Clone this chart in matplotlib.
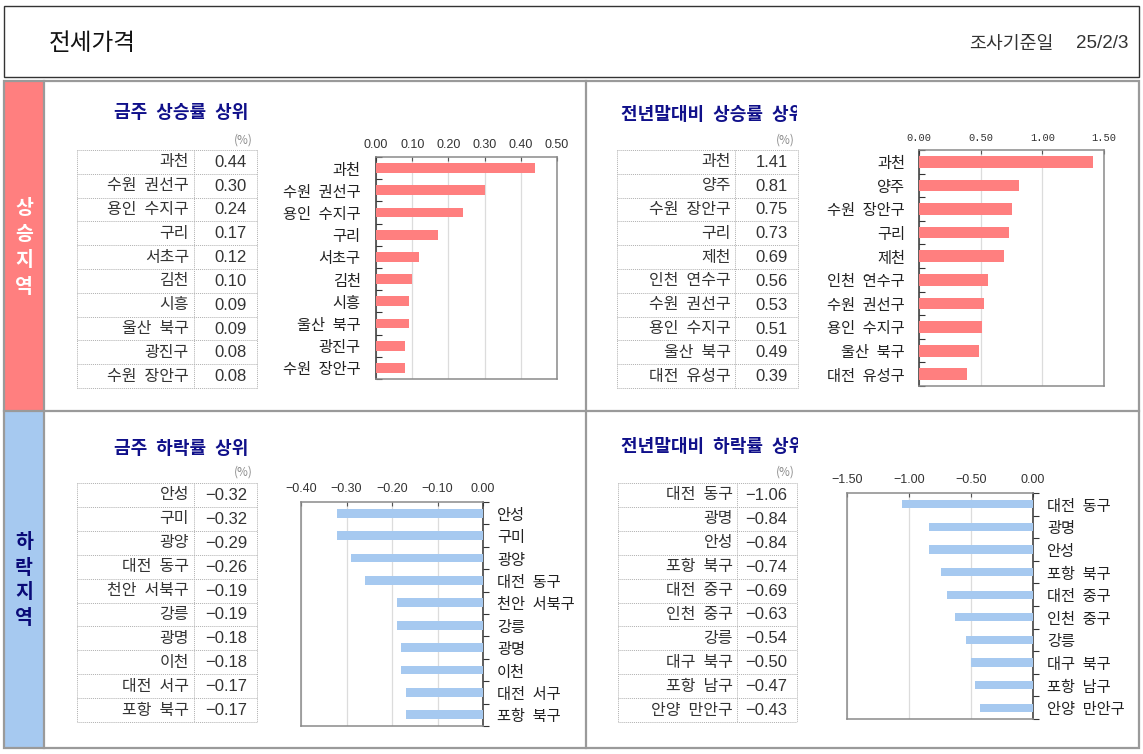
import numpy as np
import matplotlib
matplotlib.use("Agg")
import matplotlib.pyplot as plt
from matplotlib.patches import Rectangle
from matplotlib.transforms import Bbox
from matplotlib.ticker import FixedLocator, NullFormatter, FixedFormatter

# ---------------- data ----------------
up_week_names = ["과천", "수원 권선구", "용인 수지구", "구리", "서초구", "김천", "시흥", "울산 북구", "광진구", "수원 장안구"]
up_week_vals = [0.44, 0.30, 0.24, 0.17, 0.12, 0.10, 0.09, 0.09, 0.08, 0.08]

up_ytd_names = ["과천", "양주", "수원 장안구", "구리", "제천", "인천 연수구", "수원 권선구", "용인 수지구", "울산 북구", "대전 유성구"]
up_ytd_vals = [1.41, 0.81, 0.75, 0.73, 0.69, 0.56, 0.53, 0.51, 0.49, 0.39]

dn_week_names = ["안성", "구미", "광양", "대전 동구", "천안 서북구", "강릉", "광명", "이천", "대전 서구", "포항 북구"]
dn_week_vals = [-0.32, -0.32, -0.29, -0.26, -0.19, -0.19, -0.18, -0.18, -0.17, -0.17]

dn_ytd_names = ["대전 동구", "광명", "안성", "포항 북구", "대전 중구", "인천 중구", "강릉", "대구 북구", "포항 남구", "안양 만안구"]
dn_ytd_vals = [-1.06, -0.84, -0.84, -0.74, -0.69, -0.63, -0.54, -0.50, -0.47, -0.43]

up_week_ticks = [0.0, 0.1, 0.2, 0.3, 0.4, 0.5]
up_ytd_ticks = [0.0, 0.5, 1.0, 1.5]
dn_week_ticks = [-0.4, -0.3, -0.2, -0.1, 0.0]
dn_ytd_ticks = [-1.5, -1.0, -0.5, 0.0]

header_title = "전세가격"
header_date_label = "조사기준일"
header_date = "25/2/3"
up_label = "상승지역"
dn_label = "하락지역"
titles = ["금주 상승률 상위", "전년말대비 상승률 상위", "금주 하락률 상위", "전년말대비 하락률 상위"]
unit = "(%)"

# ---------------- style ----------------
KR = ["Noto Sans CJK KR", "DejaVu Sans"]
NUM = ["Liberation Sans", "DejaVu Sans"]
plt.rcParams["font.family"] = KR
W, H = 1143, 754
PINK = "#FF7F7F"
BLUE = "#A6C9F0"
NAVY = "#10108A"
TXT = "#333333"
GRID = "#DCDCDC"
BORDER = "#9A9A9A"

fig = plt.figure(figsize=(W / 100, H / 100), dpi=100)
fig.patch.set_facecolor("white")
bg = fig.add_axes([0, 0, 1, 1])
bg.set_xlim(0, W)
bg.set_ylim(H, 0)
bg.axis("off")


def fmt(v):
    return f"{v:.2f}".replace("-", "\u2212")


def gap(s):
    # word gap of half an em, as in the reference's font
    return s.replace(" ", "\u2002")


# header
bg.add_patch(Rectangle((4, 6), 1135, 71, fill=False, ec="#333333", lw=1.0))
bg.text(49, 43, header_title, fontsize=17, color="#111111", ha="left", va="center")
bg.text(1054, 44, header_date_label, fontsize=13.2, color=TXT, ha="right", va="center")
bg.text(1128, 44, header_date, fontsize=13.5, color=TXT, ha="right", va="center", family=NUM)

# side strips
bg.add_patch(Rectangle((4, 82), 40, 328, fc=PINK, ec="none"))
bg.add_patch(Rectangle((4, 411), 40, 337, fc=BLUE, ec="none"))
for i, ch in enumerate(up_label):
    bg.text(24, 208 + i * 26.5, ch, fontsize=14, fontweight="bold", color="white",
            ha="center", va="center")
for i, ch in enumerate(dn_label):
    bg.text(24, 543 + i * 25, ch, fontsize=14, fontweight="bold", color="#0A0A78",
            ha="center", va="center")

# panel borders
bg.add_patch(Rectangle((4, 81), 1135, 667, fill=False, ec=BORDER, lw=1.6))
bg.plot([44, 44], [81, 748], color=BORDER, lw=1.6)
bg.plot([586, 586], [81, 748], color=BORDER, lw=1.6)
bg.plot([4, 1139], [410.5, 410.5], color=BORDER, lw=1.6)


def draw_table(x0, xs, x1, y0, y1, names, vals, name_pad=5, val_pad=10):
    n = len(names)
    h = (y1 - y0) / n
    ls = (0, (1, 1))
    for i in range(n + 1):
        y = y0 + i * h
        bg.plot([x0, x1], [y, y], color="#B0B0B0", lw=0.7, ls=ls)
    for x in (x0, xs, x1):
        bg.plot([x, x], [y0, y1], color="#B0B0B0", lw=0.7, ls=ls)
    for i, (nm, v) in enumerate(zip(names, vals)):
        yc = y0 + (i + 0.5) * h
        bg.text(xs - name_pad, yc, gap(nm), fontsize=11.5, color=TXT, ha="right", va="center")
        bg.text(x1 - val_pad, yc + 0.5, fmt(v), fontsize=12, color=TXT, ha="right",
                va="center", family=NUM)


def draw_title(x, y, s, clip_x=None):
    t = bg.text(x, y, gap(s), fontsize=13, fontweight="bold", color=NAVY,
                ha="left", va="center")
    if clip_x is not None:
        t.set_clip_box(Bbox.from_extents(x - 10, H - (y + 20), clip_x, H - (y - 20)))
        t.set_clip_on(True)


# titles and units
draw_title(114, 113, titles[0])
draw_title(621, 114, titles[1], clip_x=797)
draw_title(114, 448, titles[2])
draw_title(621, 447, titles[3], clip_x=798)
for (ux, uy) in [(253, 140), (795, 140), (253, 472), (795, 472)]:
    bg.text(ux, uy, unit, fontsize=8.5, color="#8C8C8C", ha="right", va="center")

draw_table(77, 194, 257, 150, 388, up_week_names, up_week_vals)
draw_table(617, 735, 798, 150, 388, up_ytd_names, up_ytd_vals, name_pad=4)
draw_table(77, 194, 257, 483, 722, dn_week_names, dn_week_vals)
draw_table(618, 737, 797, 483, 722, dn_ytd_names, dn_ytd_vals, name_pad=4)


def add_ax(x0, y0, x1, y1):
    return fig.add_axes([x0 / W, 1 - y1 / H, (x1 - x0) / W, (y1 - y0) / H])


def draw_chart(box, names, vals, ticks, color, bar_h, side, tick_font, tick_size, tick_pad,
               label_pad):
    ax = add_ax(*box)
    n = len(names)
    pos = np.arange(n)
    ax.barh(pos, vals, height=bar_h, color=color, zorder=3)
    ax.set_ylim(n - 0.5, -0.5)
    ax.set_xlim(min(ticks), max(ticks))
    ax.xaxis.tick_top()
    ax.set_xticks(ticks)
    ax.set_xticklabels([fmt(t) for t in ticks], family=tick_font, fontsize=tick_size, color=TXT)
    ax.tick_params(axis="x", direction="in", length=3, color="#555555", pad=tick_pad)
    ax.grid(axis="x", color=GRID, lw=0.9, zorder=0)
    ax.set_axisbelow(True)
    ax.yaxis.set_major_locator(FixedLocator(np.arange(-0.5, n, 1.0)))
    ax.yaxis.set_major_formatter(NullFormatter())
    ax.yaxis.set_minor_locator(FixedLocator(pos))
    ax.yaxis.set_minor_formatter(FixedFormatter([gap(s) for s in names]))
    if side == "left":
        ax.tick_params(axis="y", which="major", direction="in", length=4, color="#333333",
                       left=True, right=False)
        ax.tick_params(axis="y", which="minor", length=0, pad=label_pad, labelsize=11,
                       labelcolor="#222222", left=True, right=False)
        dark = "left"
    else:
        ax.yaxis.tick_right()
        ax.tick_params(axis="y", which="major", direction="out", length=4, color="#333333",
                       left=False, right=True)
        ax.tick_params(axis="y", which="minor", length=0, pad=label_pad, labelsize=11,
                       labelcolor="#222222", left=False, right=True, labelright=True,
                       labelleft=False)
        dark = "right"
    for sp, s in ax.spines.items():
        s.set_linewidth(1.1)
        s.set_color("#333333" if sp == dark else "#8A8A8A")
    return ax


draw_chart((376, 157, 557, 379), up_week_names, up_week_vals, up_week_ticks, PINK, 0.45,
           "left", NUM, 9, 4, 11)
draw_chart((919, 150, 1104, 386), up_ytd_names, up_ytd_vals, up_ytd_ticks, PINK, 0.5,
           "left", ["Liberation Mono", "DejaVu Sans Mono"], 7.5, 5, 10)
draw_chart((301, 502, 483, 726), dn_week_names, dn_week_vals, dn_week_ticks, BLUE, 0.4,
           "right", NUM, 9, 5, 10)
draw_chart((847, 493, 1033, 719), dn_ytd_names, dn_ytd_vals, dn_ytd_ticks, BLUE, 0.37,
           "right", NUM, 9, 5, 10)

fig.savefig("out.png", dpi=100, facecolor="white")
